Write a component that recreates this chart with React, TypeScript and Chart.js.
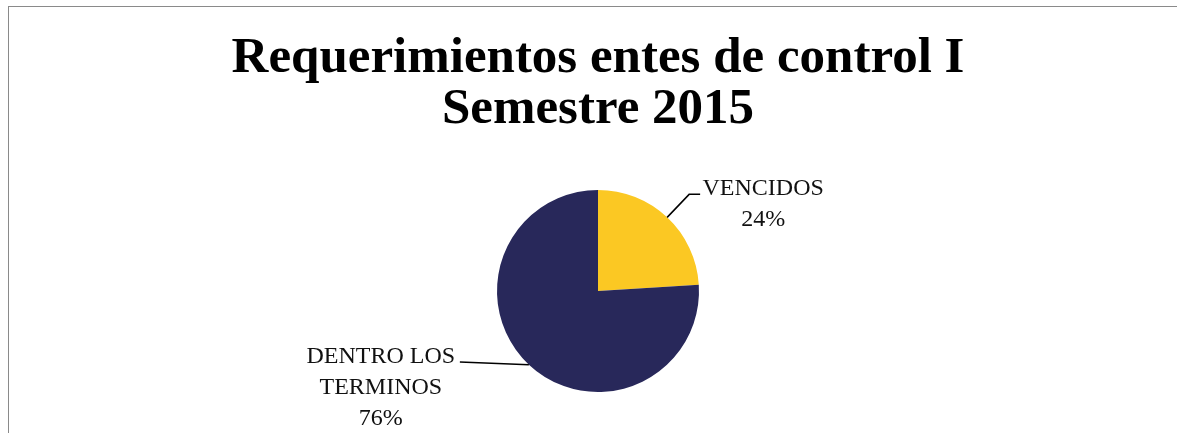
import React, { useEffect, useRef } from "react";
import { Chart, registerables } from "chart.js";

Chart.register(...registerables);

const titleLines = ["Requerimientos entes de control I", "Semestre 2015"];
const categories = ["VENCIDOS", "DENTRO LOS TERMINOS"];
const labelLines = [["VENCIDOS"], ["DENTRO LOS", "TERMINOS"]];
const values = [24, 76];
const colors = ["#FBC823", "#28285A"];

const W = 1178;
const H = 438;

const labelPlugin = {
  id: "pieLabels",
  afterDatasetsDraw(chart: any) {
    const ctx = chart.ctx;
    const meta = chart.getDatasetMeta(0);
    const total = values.reduce((a, b) => a + b, 0);
    ctx.save();
    ctx.font = "24px 'Liberation Serif'";
    ctx.fillStyle = "#111";
    ctx.strokeStyle = "#000";
    ctx.lineWidth = 1.5;
    ctx.textAlign = "center";
    ctx.textBaseline = "alphabetic";
    meta.data.forEach((arc: any, i: number) => {
      const p = arc.getProps(["x", "y", "startAngle", "endAngle", "outerRadius"], true);
      const mid = (p.startAngle + p.endAngle) / 2;
      const ax = p.x + Math.cos(mid) * p.outerRadius;
      const ay = p.y + Math.sin(mid) * p.outerRadius;
      const pct = Math.round((values[i] / total) * 100) + "%";
      const lines = [...labelLines[i], pct];
      const lh = 31;
      ctx.beginPath();
      let tx: number, ty: number;
      if (Math.cos(mid) >= 0) {
        ctx.moveTo(ax, ay);
        ctx.lineTo(ax + 22, ay - 23);
        ctx.lineTo(ax + 33, ay - 23);
        tx = ax + 96;
        ty = ay - 22;
      } else {
        ctx.moveTo(ax, ay);
        ctx.lineTo(ax - 69, ay - 2.6);
        tx = ax - 148;
        ty = ay - 1.3;
      }
      ctx.stroke();
      lines.forEach((t, k) => ctx.fillText(t, tx, ty + k * lh));
    });
    ctx.restore();
  },
};

export default function App() {
  const ref = useRef<HTMLCanvasElement>(null);
  useEffect(() => {
    if (!ref.current) return;
    const chart = new Chart(ref.current, {
      type: "pie",
      data: {
        labels: categories,
        datasets: [
          {
            data: values,
            backgroundColor: colors,
            borderWidth: 0,
            radius: 101,
          },
        ],
      },
      options: {
        animation: false,
        responsive: false,
        layout: { padding: { top: 0, bottom: 1, left: 0, right: 0 } },
        plugins: {
          legend: { display: false },
          tooltip: { enabled: false },
          title: {
            display: true,
            text: titleLines,
            color: "#000",
            font: { family: "'Liberation Serif'", size: 51, weight: "bold", lineHeight: "51px" as any },
            padding: { top: 26, bottom: 5 },
          },
        },
      },
      plugins: [labelPlugin],
    });
    return () => chart.destroy();
  }, []);
  return (
    <div style={{ position: "fixed", left: 0, top: 0, width: "100vw", height: "100vh", overflow: "hidden", background: "#fff" }}>
      <div
        style={{
          position: "absolute",
          left: 8,
          top: 6,
          width: W + 2,
          height: H + 2,
          border: "1px solid #8a8a8a",
          boxSizing: "border-box",
          background: "#fff",
        }}
      >
        <canvas ref={ref} width={W} height={H - 2} style={{ display: "block" }} />
      </div>
    </div>
  );
}
